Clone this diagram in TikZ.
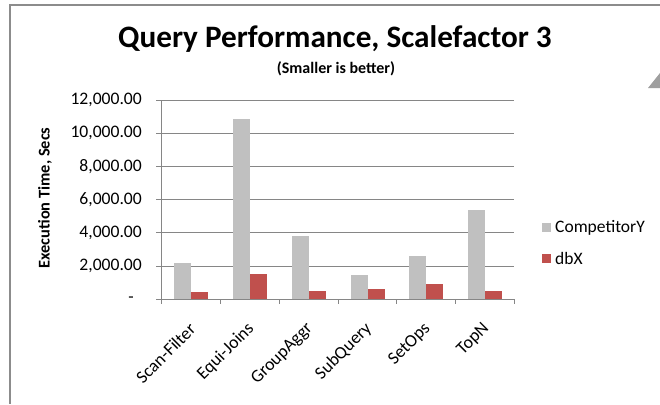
\documentclass[tikz,border=0pt]{standalone}
\usepackage{fontspec}
\setmainfont{Carlito}
\definecolor{barcomp}{RGB}{192,192,192}
\definecolor{bardbx}{RGB}{192,80,77}
\definecolor{axisgray}{RGB}{134,134,134}
\definecolor{framegray}{RGB}{140,140,140}
\tikzset{
  gridline/.style={draw=axisgray, line width=0.9pt},
  ylabel/.style={anchor=east, inner sep=0pt, font=\fontsize{17.6}{17.6}\selectfont},
  catlabel/.style={anchor=east, rotate=45, inner sep=0pt, font=\fontsize{17.8}{17.8}\selectfont},
  legendtext/.style={anchor=west, inner sep=0pt, font=\fontsize{17.5}{17.5}\selectfont},
}

\begin{document}
\begin{tikzpicture}[x=1pt, y=-1pt]
    \useasboundingbox (0,0) rectangle (660,404);
    \fill[white] (0,0) rectangle (660,404);

    % Cadre et petit triangle a droite
    \draw[framegray, line width=2pt] (660,5.5) -- (9.5,5.5) -- (9.5,404);
    \fill[gray!75] (648,88) -- (660,73) -- (660,88) -- cycle;

    % Titres
    \node[anchor=base, inner sep=0pt, font=\fontsize{31.2}{31.2}\selectfont\bfseries] (title) at (335,48) {Query Performance, Scalefactor 3};
    \node[anchor=base, inner sep=0pt, font=\fontsize{16}{16}\selectfont\bfseries] (subtitle) at (336,73) {(Smaller is better)};

    % Grille et axes
    \foreach \v/\txt in {2/2{,}000.00, 4/4{,}000.00, 6/6{,}000.00, 8/8{,}000.00, 10/10{,}000.00, 12/12{,}000.00} {
        \draw[gridline] (156,{299.3-\v*16.61}) -- (514.3,{299.3-\v*16.61});
        \node[ylabel] (ytick\v) at (142,{299.3-\v*16.61}) {\txt};
    }
    \node[ylabel] (ytick0) at (134,299.3) {-};
    \draw[gridline] (156,299.3) -- (514.3,299.3);
    \draw[gridline] (161.7,100) -- (161.7,299.3);
    \foreach \i in {0,...,6}
        \draw[gridline] ({161.7+\i*58.77},299.3) -- ({161.7+\i*58.77},304);

    \node[rotate=90, inner sep=0pt, font=\fontsize{16.4}{16.4}\selectfont\bfseries] (ytitle) at (45,198) {Execution Time, Secs};

    % Barres : CompetitorY / dbX
    \foreach \i/\g/\r/\name in {0/2180/450/Scan-Filter, 1/10880/1530/Equi-Joins, 2/3830/500/GroupAggr,
                                3/1460/620/SubQuery, 4/2620/940/SetOps, 5/5390/500/TopN} {
        \fill[barcomp] ({161.7+\i*58.77+12.5},299.3) rectangle ({161.7+\i*58.77+29.5},{299.3-\g*0.01661});
        \fill[bardbx] ({161.7+\i*58.77+29.5},299.3) rectangle ({161.7+\i*58.77+46.5},{299.3-\r*0.01661});
        \node[catlabel] (cat\i) at ({161.7+\i*58.77+31},326) {\name};
    }

    % Legende
    \fill[barcomp] (542,223) rectangle (551,232);
    \node[legendtext] (legcomp) at (555,227.5) {CompetitorY};
    \fill[bardbx] (542,254) rectangle (551,263);
    \node[legendtext] (legdbx) at (555,258.5) {dbX};
\end{tikzpicture}
\end{document}
